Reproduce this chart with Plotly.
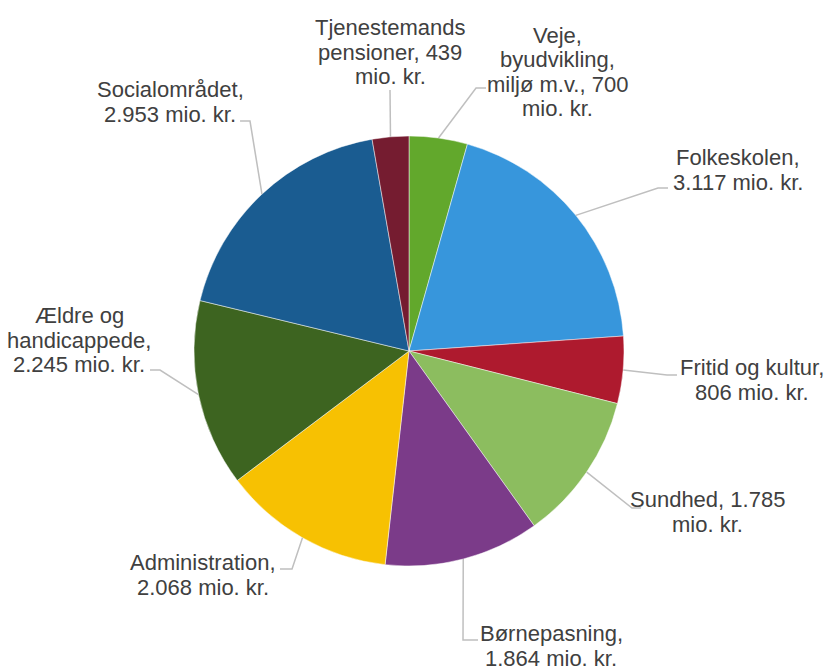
import math
import plotly.graph_objects as go

# kommunens budget, mio. kr.
names = ['Veje, byudvikling, miljø m.v.', 'Folkeskolen', 'Fritid og kultur', 'Sundhed',
         'Børnepasning', 'Administration', 'Ældre og handicappede', 'Socialområdet',
         'Tjenestemands pensioner']
values = [700, 3117, 806, 1785, 1864, 2068, 2245, 2953, 439]
colors = ['#62a82c', '#3796dc', '#ae1a2e', '#8cbd5f', '#7b3b89', '#f7c102', '#3d6420',
          '#1a5c91', '#751c30']

W, H = 824, 666
CX, CY, R = 409, 351, 215  # pie centre and radius in pixels

# label layout: wrap width, label centre (px), leader elbow and end (px)
wrap = [15, 14, 17, 14, 14, 15, 14, 14, 14]
label_xy = [(557, 72), (738, 170), (752, 380), (707, 512), (551, 646),
            (203, 575), (79, 340), (170, 102), (390, 52)]
elbow = [(476, 88), (658, 188), (667, 375), (632, 508), (463, 640),
         (292, 569), (160, 370), (250, 121), (390, 90)]
end = [(486, 88), (668, 188), (677, 375), (641, 508), (478, 640),
       (280, 569), (150, 370), (240, 121), (390, 90)]


def fmt(v):
    return f'{v:,}'.replace(',', '.')


def wrap_text(s, n):
    lines, cur = [], ''
    for w in s.split(' '):
        if cur and len(cur) + 1 + len(w) > n:
            lines.append(cur)
            cur = w
        else:
            cur = w if not cur else cur + ' ' + w
    lines.append(cur)
    return lines


def px(x, y):
    return x / W, 1 - y / H


fig = go.Figure()
fig.add_trace(go.Pie(
    labels=names, values=values, sort=False, direction='clockwise', rotation=0,
    marker=dict(colors=colors, line=dict(color='rgba(255,255,255,0.6)', width=0.8)),
    textinfo='none', hoverinfo='label+value', showlegend=False,
    domain=dict(x=[(CX - R) / W, (CX + R) / W], y=[1 - (CY + R) / H, 1 - (CY - R) / H]),
))

total = sum(values)
cum = 0
for i, v in enumerate(values):
    mid = (cum + v / 2) / total * 2 * math.pi
    cum += v
    sx, sy = CX + R * math.sin(mid), CY - R * math.cos(mid)
    pts = [(sx, sy), elbow[i], end[i]]
    path = 'M ' + ' L '.join('%.4f,%.4f' % px(*p) for p in pts)
    fig.add_shape(type='path', path=path, xref='paper', yref='paper',
                  line=dict(color='#bfbfbf', width=1.5))

    lines = wrap_text(f'{names[i]}, {fmt(v)} mio. kr.', wrap[i])
    lx, ly = label_xy[i]
    for k, t in enumerate(lines):
        yy = ly + (k - (len(lines) - 1) / 2) * 24.5
        ax, ay = px(lx, yy)
        fig.add_annotation(x=ax, y=ay, xref='paper', yref='paper', text=t, showarrow=False,
                           xanchor='center', yanchor='middle',
                           font=dict(family='Liberation Sans, Arial', size=22, color='#404040'))

fig.update_layout(width=W, height=H, margin=dict(l=0, r=0, t=0, b=0),
                  paper_bgcolor='white', plot_bgcolor='white')
fig.write_html('out.html', config={'displayModeBar': False},
               post_script="document.body.style.margin='0';")
